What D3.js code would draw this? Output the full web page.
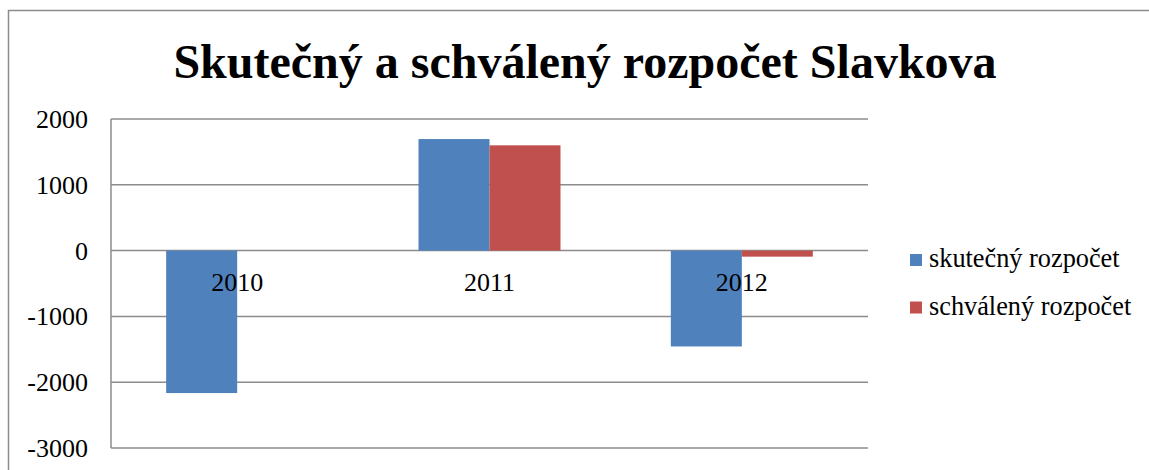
<!DOCTYPE html>
<html>
<head>
<meta charset="utf-8">
<script src="https://cdn.jsdelivr.net/npm/d3@7"></script>
<style>
  html, body { margin: 0; padding: 0; background: #fff; }
  svg text { font-family: "Liberation Serif", "DejaVu Serif", serif; fill: #000; }
</style>
</head>
<body>
<div id="chart"></div>
<script>
// chart data
const title = 'Skutečný a schválený rozpočet Slavkova';
const categories = ['2010', '2011', '2012'];
const seriesNames = ['skutečný rozpočet', 'schválený rozpočet'];
const skutecny = [-2165, 1695, -1457];
const schvaleny = [0, 1600, -92];
const yTicks = [-3000, -2000, -1000, 0, 1000, 2000];
const colors = ['#4f81bd', '#c0504d'];

const width = 1149;
const height = 470;
const plot = { left: 111, right: 868, top: 119, bottom: 448 };

const svg = d3.select('#chart').append('svg')
  .attr('width', width)
  .attr('height', height);

// outer chart frame (cropped at right/bottom)
svg.append('rect')
  .attr('x', 8.5).attr('y', 10.5)
  .attr('width', width + 20).attr('height', height + 20)
  .attr('fill', 'none')
  .attr('stroke', '#8c8c8c')
  .attr('stroke-width', 1.5);

svg.append('text')
  .attr('x', 585)
  .attr('y', 78)
  .attr('text-anchor', 'middle')
  .attr('font-weight', 'bold')
  .attr('font-size', 48)
  .text(title);

const y = d3.scaleLinear().domain([-3000, 2000]).range([plot.bottom, plot.top]);
const x0 = d3.scaleBand().domain(categories).range([plot.left, plot.right]);
const barW = 71;
const x1 = d3.scaleBand().domain(seriesNames)
  .range([x0.bandwidth() / 2 - barW, x0.bandwidth() / 2 + barW]);

// gridlines
svg.append('g')
  .selectAll('line')
  .data(yTicks)
  .join('line')
  .attr('x1', plot.left).attr('x2', plot.right)
  .attr('y1', d => y(d)).attr('y2', d => y(d))
  .attr('stroke', '#8c8c8c')
  .attr('stroke-width', 1.5);

// y axis line
svg.append('line')
  .attr('x1', plot.left).attr('x2', plot.left)
  .attr('y1', plot.top).attr('y2', plot.bottom)
  .attr('stroke', '#8c8c8c')
  .attr('stroke-width', 1.5);

// y tick labels
svg.append('g')
  .selectAll('text')
  .data(yTicks)
  .join('text')
  .attr('x', 88)
  .attr('y', d => y(d) + 9)
  .attr('text-anchor', 'end')
  .attr('font-size', 26)
  .text(d => d);

// bars
const series = [skutecny, schvaleny];
const groups = svg.append('g')
  .selectAll('g')
  .data(categories)
  .join('g')
  .attr('transform', d => `translate(${x0(d)},0)`);

groups.selectAll('rect')
  .data((d, i) => seriesNames.map((s, k) => ({ s, k, v: series[k][i] })))
  .join('rect')
  .attr('x', d => x1(d.s))
  .attr('width', x1.bandwidth())
  .attr('y', d => y(Math.max(0, d.v)))
  .attr('height', d => Math.abs(y(d.v) - y(0)))
  .attr('fill', d => colors[d.k]);

// category labels at zero line
svg.append('g')
  .selectAll('text')
  .data(categories)
  .join('text')
  .attr('x', d => x0(d) + x0.bandwidth() / 2)
  .attr('y', y(0) + 40)
  .attr('text-anchor', 'middle')
  .attr('font-size', 26)
  .text(d => d);

// legend
const legend = svg.append('g')
  .selectAll('g')
  .data(seriesNames)
  .join('g')
  .attr('transform', (d, i) => `translate(910,${254 + i * 47.5})`);

legend.append('rect')
  .attr('width', 12).attr('height', 12)
  .attr('fill', (d, i) => colors[i]);

legend.append('text')
  .attr('x', 19)
  .attr('y', 13)
  .attr('font-size', 26.3)
  .text(d => d);
</script>
</body>
</html>
